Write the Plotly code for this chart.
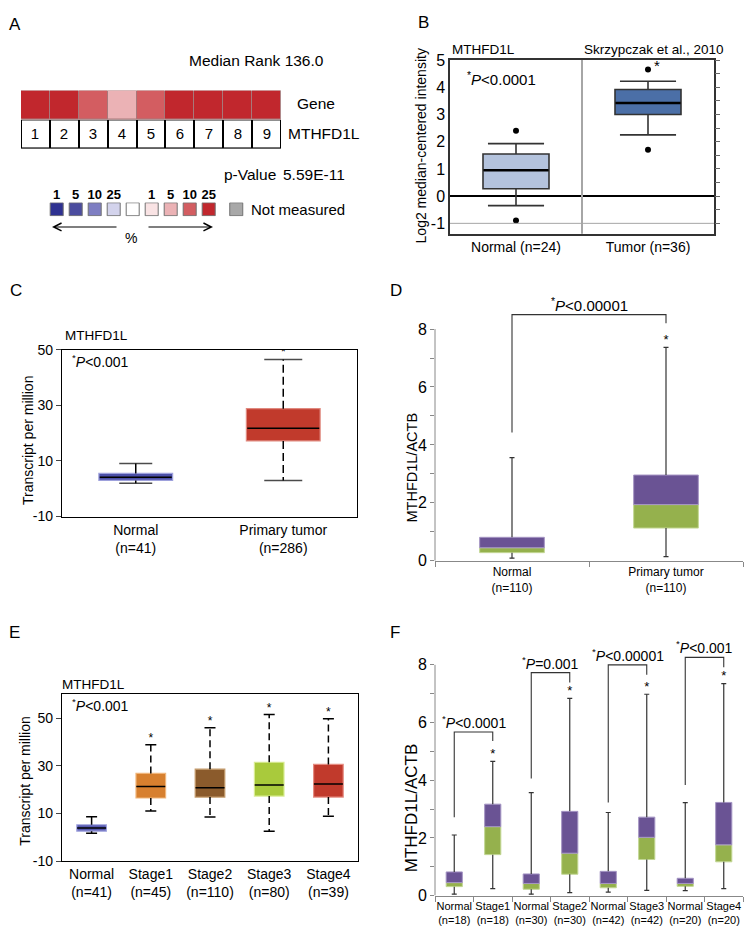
import plotly.graph_objects as go

W, H = 746, 936
FONT = "Liberation Sans, Arial, Helvetica, sans-serif"

# ---------------- data ----------------
# A: meta-analysis heat strip
a_analyses = ["1", "2", "3", "4", "5", "6", "7", "8", "9"]
a_cell_bin = [8, 8, 7, 6, 7, 8, 8, 8, 8]          # index into legend bins
a_median_rank = "136.0"
a_pvalue = "5.59E-11"
legend_ticks = ["1", "5", "10", "25", "", "1", "5", "10", "25"]
legend_colors = ['#2e3191', '#4b4c9f', '#7e7ec2', '#d3d3ec', '#ffffff',
                 '#f9e3e4', '#ebb2b5', '#d35d61', '#c1272d']
not_measured_color = '#a8a8a8'

# B: Skrzypczak 2010
b_groups = ["Normal (n=24)", "Tumor (n=36)"]
b_q1 = [0.27, 3.00]
b_med = [0.95, 3.42]
b_q3 = [1.55, 3.92]
b_low = [-0.35, 2.25]
b_high = [1.93, 4.22]
b_outliers = [[2.40, -0.90], [4.65, 1.70]]
b_yticks = [-1, 0, 1, 2, 3, 4, 5]

# C: TPM normal vs tumor
c_groups = ["Normal<br>(n=41)", "Primary tumor<br>(n=286)"]
c_q1 = [3.0, 17.2]
c_med = [4.1, 21.8]
c_q3 = [5.5, 28.8]
c_low = [2.0, 3.0]
c_high = [9.1, 46.5]
c_yticks = [-10, 10, 30, 50]

# D: MTHFD1L/ACTB normal vs tumor
d_groups = ["Normal<br>(n=110)", "Primary tumor<br>(n=110)"]
d_q1 = [0.28, 1.13]
d_med = [0.45, 1.94]
d_q3 = [0.81, 2.96]
d_low = [0.09, 0.14]
d_high = [3.56, 7.37]
d_bracket = dict(left=4.43, top=8.50, right=8.20)
d_pval = "0.00001"
d_ylabels = [0, 2, 4, 6, 8]
d_yminor = [1, 3, 5, 7]

# E: TPM by stage
e_groups = ["Normal<br>(n=41)", "Stage1<br>(n=45)", "Stage2<br>(n=110)",
            "Stage3<br>(n=80)", "Stage4<br>(n=39)"]
e_q1 = [2.6, 16.5, 16.9, 17.3, 16.9]
e_med = [3.9, 21.3, 20.8, 22.0, 22.4]
e_q3 = [5.3, 26.8, 28.6, 31.5, 30.6]
e_low = [1.7, 11.1, 8.5, 2.6, 8.9]
e_high = [8.6, 38.8, 46.0, 51.5, 49.7]
e_yticks = [-10, 10, 30, 50]

# F: MTHFD1L/ACTB by stage (paired normal)
f_groups = ["Normal<br>(n=18)", "Stage1<br>(n=18)", "Normal<br>(n=30)", "Stage2<br>(n=30)",
            "Normal<br>(n=42)", "Stage3<br>(n=42)", "Normal<br>(n=20)", "Stage4<br>(n=20)"]
f_q1 = [0.31, 1.42, 0.22, 0.74, 0.27, 1.25, 0.32, 1.17]
f_med = [0.45, 2.39, 0.42, 1.47, 0.42, 2.02, 0.42, 1.76]
f_q3 = [0.82, 3.17, 0.75, 2.92, 0.84, 2.72, 0.60, 3.23]
f_low = [0.05, 0.24, 0.05, 0.10, 0.12, 0.18, 0.17, 0.24]
f_high = [2.10, 4.65, 3.57, 6.84, 2.88, 6.98, 3.22, 7.35]
f_br_left = [2.72, 4.06, 3.23, 3.83]
f_br_top = [5.67, 7.73, 8.00, 8.26]
f_br_right = [5.36, 7.39, 7.66, 7.92]
f_pvals = ["&lt;0.0001", "=0.001", "&lt;0.00001", "&lt;0.001"]

# ---------------- helpers ----------------
def dx(a, b):
    return [a / W, b / W]

def dy(top, bottom):
    return [1 - bottom / H, 1 - top / H]

def PX(x):
    return x / W

def PY(y):
    return 1 - y / H

LINE_EW = 1.4   # plotly draws a line-ew marker 1.4 x its size long

fig = go.Figure()

def txt(x, y, s, size, anchor='left', **kw):
    fig.add_annotation(x=PX(x), y=PY(y), xref='paper', yref='paper', text=s,
                       showarrow=False, font=dict(size=size, color='black', family=FONT),
                       xanchor=anchor, yanchor='middle', **kw)

def whiskers(idx, q1, q3, low, high):
    X, Y = [], []
    for i in idx:
        X += [i, i, None, i, i, None]
        Y += [q3[i], high[i], None, q1[i], low[i], None]
    return X, Y

def caps(idx, low, high):
    X, Y = [], []
    for i in idx:
        X += [i, i]
        Y += [low[i], high[i]]
    return X, Y

# ---------------- Panel A ----------------
n = len(a_analyses)
nb = len(legend_colors)
cs = []
for i, c in enumerate(legend_colors):
    cs.append([i / nb, c])
    cs.append([(i + 1) / nb, c])
white_bin = legend_ticks.index("")
xs = list(range(1, n + 1))
# number row (white boxes)
fig.add_trace(go.Heatmap(
    x=xs, y=[0], z=[[white_bin] * n], text=[a_analyses], texttemplate="%{text}",
    textfont=dict(size=15, color='black', family=FONT),
    colorscale=cs, zmin=-0.5, zmax=nb - 0.5, showscale=False,
    xgap=2, ygap=2, xaxis='x', yaxis='y', hoverinfo='skip'))
# coloured row
fig.add_trace(go.Heatmap(
    x=xs, y=[1], z=[a_cell_bin],
    colorscale=cs, zmin=-0.5, zmax=nb - 0.5, showscale=False,
    xgap=1, ygap=1, xaxis='x', yaxis='y', hoverinfo='skip'))
fig.add_shape(type='rect', xref='x', yref='y', x0=0.5, x1=n + 0.5, y0=-0.5, y1=0.5,
              fillcolor='black', line=dict(color='black', width=1.5), layer='below')
fig.add_shape(type='rect', xref='x', yref='y', x0=0.5, x1=n + 0.5, y0=0.5, y1=1.5,
              fillcolor='#a8787a', line=dict(color='#b89a9b', width=1), layer='below')

# legend squares
leg_x = list(range(nb)) + [nb + 0.45]
fig.add_trace(go.Scatter(
    x=leg_x, y=[0] * len(leg_x), mode='markers',
    marker=dict(symbol='square', size=13, color=legend_colors + [not_measured_color],
                line=dict(color='#707070', width=1)),
    xaxis='x2', yaxis='y2', hoverinfo='skip'))
leg_tick_idx = [i for i, t in enumerate(legend_ticks) if t]

# ---------------- Panel B ----------------
b_fill = ['#b4c3dd', '#4b6fa7']
for i in range(2):
    fig.add_trace(go.Box(
        x=[i], q1=[b_q1[i]], median=[b_med[i]], q3=[b_q3[i]],
        lowerfence=[b_low[i]], upperfence=[b_high[i]],
        width=0.5, whiskerwidth=0.85, fillcolor=b_fill[i],
        line=dict(color='#333333', width=1.6), boxpoints=False,
        xaxis='x3', yaxis='y3', hoverinfo='skip'))
    fig.add_trace(go.Scatter(
        x=[i] * len(b_outliers[i]), y=b_outliers[i], mode='markers',
        marker=dict(color='black', size=6), xaxis='x3', yaxis='y3', hoverinfo='skip'))
fig.add_trace(go.Scatter(x=[0, 1], y=b_med, mode='markers',
                         marker=dict(symbol='line-ew', size=65 / LINE_EW,
                                     line=dict(color='black', width=2.6)),
                         xaxis='x3', yaxis='y3', hoverinfo='skip'))
fig.add_trace(go.Scatter(x=[0], y=[0], mode='markers', marker=dict(opacity=0),
                         xaxis='x3', yaxis='y4', hoverinfo='skip'))
fig.add_annotation(x=1, y=max(b_outliers[1]), xref='x3', yref='y3', text='*',
                   showarrow=False, xshift=9, yshift=4, font=dict(size=15, color='black'))
fig.add_shape(type='line', xref='x3', yref='y3 domain', x0=0.5, x1=0.5, y0=0, y1=1,
              line=dict(color='#a6a6a6', width=2))
fig.add_shape(type='line', xref='x3 domain', yref='y3', x0=0, x1=1, y0=-1, y1=-1,
              line=dict(color='#a6a6a6', width=1))

# ---------------- Panel C ----------------
c_idx = list(range(len(c_groups)))
C_FILL = ['#4b4fa7', '#c13a2c']
C_EDGE = ['#9ea1dc', '#e0897f']
fig.add_trace(go.Bar(x=c_idx, base=c_q1, y=[b - a for a, b in zip(c_q1, c_q3)], width=0.5,
                     marker=dict(color=C_FILL, line=dict(color=C_EDGE, width=1.2)),
                     xaxis='x5', yaxis='y5', hoverinfo='skip'))
fig.add_trace(go.Scatter(x=c_idx, y=c_med, mode='markers',
                         marker=dict(symbol='line-ew', size=72 / LINE_EW,
                                     line=dict(color='black', width=1.5)),
                         xaxis='x5', yaxis='y5', hoverinfo='skip'))
for grp, dash in (([0], 'solid'), ([1], '8px,4px')):
    X, Y = whiskers(grp, c_q1, c_q3, c_low, c_high)
    fig.add_trace(go.Scatter(x=X, y=Y, mode='lines', line=dict(color='black', width=1.5, dash=dash),
                             xaxis='x5', yaxis='y5', hoverinfo='skip'))
X, Y = caps(c_idx, c_low, c_high)
fig.add_trace(go.Scatter(x=X, y=Y, mode='markers',
                         marker=dict(symbol='line-ew', size=[s / LINE_EW for s in (33, 33, 38, 38)],
                                     line=dict(color='black', width=1.5)),
                         xaxis='x5', yaxis='y5', hoverinfo='skip'))
fig.add_trace(go.Scatter(x=[1], y=[c_high[1]], mode='text', text=['*'], textposition='top center',
                         textfont=dict(size=12, color='black'), xaxis='x5', yaxis='y5', hoverinfo='skip'))

# ---------------- Panel D / F (two-tone boxes) ----------------
GREEN, GREEN_EDGE = '#95b14d', '#c3d795'
PURPLE, PURPLE_EDGE = '#6a5394', '#a595c4'
WH = '#333333'

def twotone(xa, ya, q1, med, q3, low, high, bw):
    idx = list(range(len(q1)))
    fig.add_trace(go.Bar(x=idx, base=q1, y=[m - a for a, m in zip(q1, med)], width=bw,
                         marker=dict(color=GREEN, line=dict(color=GREEN_EDGE, width=1)),
                         xaxis=xa, yaxis=ya, hoverinfo='skip'))
    fig.add_trace(go.Bar(x=idx, base=med, y=[b - m for m, b in zip(med, q3)], width=bw,
                         marker=dict(color=PURPLE, line=dict(color=PURPLE_EDGE, width=1)),
                         xaxis=xa, yaxis=ya, hoverinfo='skip'))
    X, Y = whiskers(idx, q1, q3, low, high)
    fig.add_trace(go.Scatter(x=X, y=Y, mode='lines', line=dict(color=WH, width=1.2),
                             xaxis=xa, yaxis=ya, hoverinfo='skip'))
    X, Y = caps(idx, low, high)
    fig.add_trace(go.Scatter(x=X, y=Y, mode='markers',
                             marker=dict(symbol='line-ew', size=5 / LINE_EW,
                                         line=dict(color=WH, width=1.2)),
                             xaxis=xa, yaxis=ya, hoverinfo='skip'))

def bracket(xa, ya, i0, i1, left, top, right, label, size):
    fig.add_trace(go.Scatter(x=[i0, i0, i1, i1], y=[left, top, top, right], mode='lines',
                             line=dict(color=WH, width=1.1), xaxis=xa, yaxis=ya, hoverinfo='skip'))
    fig.add_annotation(x=(i0 + i1) / 2, y=top, xref=xa, yref=ya, yanchor='bottom',
                       text='<sup>*</sup><i>P</i>' + label, showarrow=False, yshift=-1,
                       font=dict(size=size, color='black'))

twotone('x6', 'y6', d_q1, d_med, d_q3, d_low, d_high, 0.42)
bracket('x6', 'y6', 0, 1, d_bracket['left'], d_bracket['top'], d_bracket['right'], '&lt;' + d_pval, 15)
fig.add_trace(go.Scatter(x=[1], y=[d_high[1]], mode='text', text=['*'], textposition='top center',
                         textfont=dict(size=13, color='black'), xaxis='x6', yaxis='y6', hoverinfo='skip'))

twotone('x8', 'y8', f_q1, f_med, f_q3, f_low, f_high, 0.42)
for k in range(4):
    bracket('x8', 'y8', 2 * k, 2 * k + 1, f_br_left[k], f_br_top[k], f_br_right[k], f_pvals[k], 14)
f_stage_idx = [2 * k + 1 for k in range(4)]
fig.add_trace(go.Scatter(x=f_stage_idx, y=[f_high[i] for i in f_stage_idx], mode='text',
                         text=['*'] * 4, textposition='top center',
                         textfont=dict(size=13, color='black'), xaxis='x8', yaxis='y8', hoverinfo='skip'))
for xa, ya in (('x6', 'y6'), ('x8', 'y8')):
    fig.add_shape(type='line', xref=xa + ' domain', yref=ya, x0=0, x1=0, y0=0, y1=max(d_ylabels),
                  line=dict(color='#888888', width=1))

# ---------------- Panel E ----------------
e_idx = list(range(len(e_groups)))
E_FILL = ['#5659b0', '#d7802f', '#8b5b2c', '#a9ca3c', '#c13a2c']
E_EDGE = ['#a3a6e0', '#f0b57a', '#c49a6a', '#d9ec92', '#e58b80']
fig.add_trace(go.Bar(x=e_idx, base=e_q1, y=[b - a for a, b in zip(e_q1, e_q3)], width=0.5,
                     marker=dict(color=E_FILL, line=dict(color=E_EDGE, width=1.2)),
                     xaxis='x7', yaxis='y7', hoverinfo='skip'))
fig.add_trace(go.Scatter(x=e_idx, y=e_med, mode='markers',
                         marker=dict(symbol='line-ew', size=29 / LINE_EW,
                                     line=dict(color='black', width=1.5)),
                         xaxis='x7', yaxis='y7', hoverinfo='skip'))
for grp, dash in (([0], 'solid'), ([1, 2, 3, 4], '7px,4px')):
    X, Y = whiskers(grp, e_q1, e_q3, e_low, e_high)
    fig.add_trace(go.Scatter(x=X, y=Y, mode='lines', line=dict(color='black', width=1.5, dash=dash),
                             xaxis='x7', yaxis='y7', hoverinfo='skip'))
X, Y = caps(e_idx, e_low, e_high)
fig.add_trace(go.Scatter(x=X, y=Y, mode='markers',
                         marker=dict(symbol='line-ew', size=11 / LINE_EW,
                                     line=dict(color='black', width=1.5)),
                         xaxis='x7', yaxis='y7', hoverinfo='skip'))
fig.add_trace(go.Scatter(x=e_idx[1:], y=e_high[1:], mode='text', text=['*'] * 4,
                         textposition='top center', textfont=dict(size=12, color='black'),
                         xaxis='x7', yaxis='y7', hoverinfo='skip'))

# ---------------- axes ----------------
hidden = dict(visible=False, showgrid=False, zeroline=False)
framed = dict(showline=True, mirror=True, linecolor='black', linewidth=1.3,
              showgrid=False, zeroline=False)

layout_axes = dict(
    xaxis=dict(domain=dx(21, 281), range=[0.5, n + 0.5], anchor='y', **hidden),
    yaxis=dict(domain=dy(84, 143), range=[-0.5, 1.5], anchor='x', **hidden),
    xaxis2=dict(domain=dx(40, 250), range=[(40 - 56.7) / 19, (250 - 56.7) / 19], anchor='y2',
                side='top', tickmode='array', tickvals=leg_tick_idx,
                ticktext=['<b>%s</b>' % legend_ticks[i] for i in leg_tick_idx], ticks='',
                showline=False, showgrid=False, zeroline=False, tickfont=dict(size=13)),
    yaxis2=dict(domain=dy(198, 212), range=[-1, 1], anchor='x2', **hidden),
    xaxis3=dict(domain=dx(450, 714), range=[-0.5, 1.5], anchor='y3', tickmode='array',
                tickvals=[0, 1], ticktext=b_groups, ticks='', tickfont=dict(size=14),
                **{**framed, 'linecolor': '#333333', 'linewidth': 1.5}),
    yaxis3=dict(domain=dy(53, 230), range=[-1.385, 5], anchor='x3', tickmode='array',
                tickvals=b_yticks, ticktext=[str(v) for v in b_yticks], ticks='',
                tickfont=dict(size=16), showline=True, mirror=True, linecolor='#333333',
                linewidth=1.5, showgrid=False, zeroline=True, zerolinecolor='black',
                zerolinewidth=2),
    yaxis4=dict(overlaying='y3', side='right', anchor='x3', range=[-1.385, 5], tickmode='linear',
                tick0=-1, dtick=0.5, ticks='outside', ticklen=5, tickcolor='#666666',
                showticklabels=False, showline=False, showgrid=False, zeroline=False),
    xaxis5=dict(domain=dx(62, 357), range=[-0.5, 1.5], anchor='y5', tickmode='array',
                tickvals=c_idx, ticktext=c_groups, ticks='', tickfont=dict(size=14), **framed),
    yaxis5=dict(domain=dy(348, 518), range=[-10, 50], anchor='x5', tickmode='array',
                tickvals=c_yticks, ticktext=[str(v) for v in c_yticks], ticks='outside',
                ticklen=5, tickfont=dict(size=14), **framed),
    xaxis6=dict(domain=dx(435, 743), range=[-0.5, 1.5], anchor='y6', tickmode='array',
                tickvals=[0, 1], ticktext=d_groups, ticks='', tickfont=dict(size=12),
                tickangle=0, showline=True, linecolor='#888888', linewidth=1, showgrid=False,
                zeroline=False,
                minor=dict(tickmode='array', tickvals=[-0.5, 0.5, 1.5], ticks='outside',
                           ticklen=5, tickcolor='#888888')),
    yaxis6=dict(domain=dy(563 - 8.8 * 29.5, 563), range=[0, 8.8], anchor='x6', tickmode='array',
                tickvals=d_ylabels, ticktext=[str(v) for v in d_ylabels],
                ticks='outside', ticklen=4, tickcolor='#888888', tickfont=dict(size=16),
                minor=dict(tickmode='array', tickvals=d_yminor, ticks='outside', ticklen=4,
                           tickcolor='#888888'),
                showline=False, showgrid=False, zeroline=False),
    xaxis7=dict(domain=dx(62, 358), range=[-0.5, 4.5], anchor='y7', tickmode='array',
                tickvals=e_idx, ticktext=e_groups, ticks='', tickfont=dict(size=14),
                tickangle=0, **framed),
    yaxis7=dict(domain=dy(699, 869), range=[-10, 60], anchor='x7', tickmode='array',
                tickvals=e_yticks, ticktext=[str(v) for v in e_yticks], ticks='outside',
                ticklen=5, tickfont=dict(size=14), **framed),
    xaxis8=dict(domain=dx(435, 743), range=[-0.5, 7.5], anchor='y8', tickmode='array',
                tickvals=list(range(8)), ticktext=f_groups, ticks='', tickfont=dict(size=11),
                tickangle=0, showline=True, linecolor='#888888', linewidth=1, showgrid=False,
                zeroline=False,
                minor=dict(tickmode='array', tickvals=[i - 0.5 for i in range(9)], ticks='outside',
                           ticklen=5, tickcolor='#888888')),
    yaxis8=dict(domain=dy(904 - 8.8 * 29.375, 904), range=[0, 8.8], anchor='x8', tickmode='array',
                tickvals=d_ylabels, ticktext=[str(v) for v in d_ylabels],
                ticks='outside', ticklen=4, tickcolor='#888888', tickfont=dict(size=16),
                minor=dict(tickmode='array', tickvals=d_yminor, ticks='outside', ticklen=4,
                           tickcolor='#888888'),
                showline=False, showgrid=False, zeroline=False),
)

fig.update_layout(width=W, height=H, margin=dict(l=0, r=0, t=0, b=0),
                  paper_bgcolor='white', plot_bgcolor='rgba(0,0,0,0)', showlegend=False,
                  barmode='overlay', font=dict(family=FONT, color='black'), **layout_axes)

# ---------------- texts ----------------
# Panel A
txt(7, 17, "A", 17)
txt(256, 53, "Median Rank " + a_median_rank, 15.5, 'center')
txt(295, 97, "Gene", 15.5)
txt(286, 128, "MTHFD1L", 15.5)
txt(222, 170, "p-Value", 15.5)
txt(347, 170, a_pvalue, 15.5, 'right')
fig.add_annotation(x=(249 - 56.7) / 19, y=0, xref='x2', yref='y2', text="Not measured",
                   showarrow=False, xanchor='left', font=dict(size=15, color='black'))
fig.add_annotation(x=(131 - 56.7) / 19, y=PY(224), xref='x2', yref='paper', text="%",
                   showarrow=False, font=dict(size=14, color='black'))
for head, tail in ((52, 118), (213, 147)):
    fig.add_annotation(x=(head - 56.7) / 19, y=PY(223), xref='x2', yref='paper',
                       ax=(tail - 56.7) / 19, ay=0, axref='x2', ayref='pixel', text='',
                       showarrow=True, arrowhead=5, arrowsize=1.4, arrowwidth=1.1,
                       arrowcolor='black')

# Panel B
txt(416, 15, "B", 17)
txt(450, 42, "MTHFD1L", 13.5)
txt(726, 42, "Skrzypczak et al., 2010", 13.5, 'right')
txt(465, 72, "<sup>*</sup><i>P</i>&lt;0.0001", 15)
txt(421, 141, "Log2 median-centered intensity", 14, 'center', textangle=-90)

# Panel C
txt(8, 288, "C", 17)
txt(63, 334, "MTHFD1L", 13.5)
txt(70, 360, "<sup>*</sup><i>P</i>&lt;0.001", 14)
txt(28, 441, "Transcript per million", 14, 'center', textangle=-90)

# Panel D
txt(388, 288, "D", 17)
txt(411, 468, "MTHFD1L/ACTB", 14.5, 'center', textangle=-90)

# Panel E
txt(7, 636, "E", 17)
txt(60, 689, "MTHFD1L", 13.5)
txt(70, 710, "<sup>*</sup><i>P</i>&lt;0.001", 14)
txt(25, 788, "Transcript per million", 14, 'center', textangle=-90)

# Panel F
txt(388, 636, "F", 17)
txt(411, 815, "MTHFD1L/ACTB", 17, 'center', textangle=-90)

fig.write_html("out.html", config={'displayModeBar': False},
               post_script="document.body.style.margin='0';document.body.style.padding='0';")
